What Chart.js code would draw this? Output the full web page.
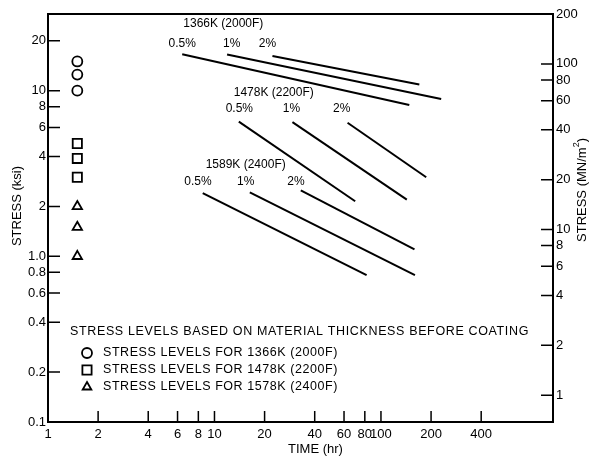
<!DOCTYPE html>
<html>
<head>
<meta charset="utf-8">
<script src="https://cdn.jsdelivr.net/npm/chart.js@4.4.1/dist/chart.umd.min.js"></script>
<style>
  html, body { margin: 0; padding: 0; background: #fff; }
</style>
</head>
<body>
<canvas id="chart" width="595" height="456"></canvas>
<script>
const FONT = '"Liberation Sans", Arial, sans-serif';

// axes
const timeTicks = [1, 2, 4, 6, 8, 10, 20, 40, 60, 80, 100, 200, 400];
const ksiTicks = [0.1, 0.2, 0.4, 0.6, 0.8, 1, 2, 4, 6, 8, 10, 20];
const ksiLabels = ["0.1", "0.2", "0.4", "0.6", "0.8", "1.0", "2", "4", "6", "8", "10", "20"];
const mnTicks = [1, 2, 4, 6, 8, 10, 20, 40, 60, 80, 100, 200];
const KSI_TO_MN = 6.895;
const maxMN = 200;

// stress level markers (time, ksi)
const markerTime = 1.5;
const circleStress = [15, 12.5, 10];
const squareStress = [4.8, 3.9, 3.0];
const triangleStress = [2.0, 1.5, 1.0];

// creep strain lines, each [t start, ksi start, t end, ksi end] for 0.5%, 1%, 2%
const strains = ["0.5%", "1%", "2%"];
const lines1366 = [[6.4, 16.6, 148, 8.2], [11.9, 16.5, 230, 8.9], [22.3, 16.2, 170, 10.9]];
const lines1478 = [[14.0, 6.5, 70, 2.15], [29.4, 6.45, 143, 2.2], [63, 6.4, 187, 3.0]];
const lines1589 = [[8.5, 2.41, 82, 0.77], [16.3, 2.43, 160, 0.77], [33, 2.5, 159, 1.1]];

// annotation anchors (time, ksi)
const tempNames = ["1366K (2000F)", "1478K (2200F)", "1589K (2400F)"];
const tempLabelAt = [[11.3, 25.5], [22.7, 9.7], [15.4, 3.56]];
const strainLabelTime = [[6.4, 12.7, 20.8], [14.1, 29.0, 58.1], [7.95, 15.4, 30.9]];
const strainLabelStress = [19.3, 7.78, 2.82];

const noteTitle = "STRESS LEVELS BASED ON MATERIAL THICKNESS BEFORE COATING";
const noteRows = [
  ["circle", "STRESS LEVELS FOR 1366K (2000F)"],
  ["rect", "STRESS LEVELS FOR 1478K (2200F)"],
  ["triangle", "STRESS LEVELS FOR 1578K (2400F)"],
];

function markers(stresses, style, r) {
  return {
    data: stresses.map((s) => ({ x: markerTime, y: s })),
    pointStyle: style,
    pointRadius: r,
    borderColor: "#000",
    backgroundColor: "rgba(0,0,0,0)",
    pointBorderWidth: 1.8,
    showLine: false,
  };
}

function strainLine(seg) {
  return {
    data: [{ x: seg[0], y: seg[1] }, { x: seg[2], y: seg[3] }],
    showLine: true,
    borderColor: "#000",
    borderWidth: 2,
    pointRadius: 0,
  };
}

const datasets = [
  markers(circleStress, "circle", 5),
  markers(squareStress, "rect", 6.5),
  markers(triangleStress, "triangle", 5.4),
  ...lines1366.map(strainLine),
  ...lines1478.map(strainLine),
  ...lines1589.map(strainLine),
];

function fixedTicks(values) {
  return (scale) => {
    scale.ticks = values.map((v) => ({ value: v }));
  };
}

const decor = {
  id: "decor",
  afterDatasetsDraw(chart) {
    const ctx = chart.ctx;
    const a = chart.chartArea;
    const x = chart.scales.x, y = chart.scales.y, y2 = chart.scales.y2;
    ctx.save();
    ctx.strokeStyle = "#000";
    ctx.fillStyle = "#000";

    // frame
    ctx.lineWidth = 2;
    ctx.strokeRect(a.left, a.top, a.right - a.left, a.bottom - a.top);

    // inward ticks
    ctx.lineWidth = 1.5;
    ctx.beginPath();
    timeTicks.slice(1).forEach((v) => {
      const px = x.getPixelForValue(v);
      ctx.moveTo(px, a.bottom);
      ctx.lineTo(px, a.bottom - 11);
    });
    ksiTicks.slice(1).forEach((v) => {
      const py = y.getPixelForValue(v);
      ctx.moveTo(a.left, py);
      ctx.lineTo(a.left + 12, py);
    });
    mnTicks.slice(0, -1).forEach((v) => {
      const py = y2.getPixelForValue(v);
      ctx.moveTo(a.right, py);
      ctx.lineTo(a.right - 12, py);
    });
    ctx.stroke();

    // axis titles
    ctx.font = "13px " + FONT;
    ctx.textAlign = "center";
    ctx.textBaseline = "middle";
    ctx.fillText("TIME (hr)", (a.left + a.right) / 2 + 15, 449);

    ctx.save();
    ctx.translate(17, 206);
    ctx.rotate(-Math.PI / 2);
    ctx.fillText("STRESS (ksi)", 0, 0);
    ctx.restore();

    ctx.save();
    ctx.translate(582, 190);
    ctx.rotate(-Math.PI / 2);
    const main = "STRESS (MN/m";
    ctx.font = "13px " + FONT;
    const w1 = ctx.measureText(main).width;
    ctx.font = "9px " + FONT;
    const w2 = ctx.measureText("2").width;
    ctx.font = "13px " + FONT;
    const w3 = ctx.measureText(")").width;
    const sx = -(w1 + w2 + w3) / 2;
    ctx.textAlign = "left";
    ctx.fillText(main, sx, 0);
    ctx.font = "9px " + FONT;
    ctx.fillText("2", sx + w1, -5);
    ctx.font = "13px " + FONT;
    ctx.fillText(")", sx + w1 + w2, 0);
    ctx.restore();

    // curve labels
    ctx.font = "12px " + FONT;
    ctx.textAlign = "center";
    tempNames.forEach((name, i) => {
      ctx.fillText(name, x.getPixelForValue(tempLabelAt[i][0]), y.getPixelForValue(tempLabelAt[i][1]));
      strains.forEach((s, j) => {
        ctx.fillText(s, x.getPixelForValue(strainLabelTime[i][j]), y.getPixelForValue(strainLabelStress[i]));
      });
    });

    // note block
    ctx.textAlign = "left";
    ctx.font = "12.5px " + FONT;
    const natural = ctx.measureText(noteTitle).width;
    ctx.letterSpacing = ((459 - natural) / noteTitle.length) + "px";
    ctx.fillText(noteTitle, 70, 332);
    ctx.letterSpacing = "0px";
    const rn = ctx.measureText(noteRows[0][1]).width;
    ctx.letterSpacing = ((235 - rn) / noteRows[0][1].length) + "px";
    noteRows.forEach((row, i) => {
      const ry = 353 + i * 17;
      ctx.fillStyle = "#000";
      ctx.fillText(row[1], 103, ry);
      ctx.fillStyle = "rgba(0,0,0,0)";
      ctx.lineWidth = 1.8;
      Chart.helpers.drawPoint(ctx, {
        pointStyle: row[0],
        radius: row[0] === "rect" ? 6.5 : 5,
        borderWidth: 1.8,
      }, 87, ry);
    });
    ctx.restore();
  },
};

const tickFont = { family: FONT, size: 13 };

new Chart(document.getElementById("chart"), {
  type: "scatter",
  data: { datasets },
  options: {
    responsive: false,
    animation: false,
    layout: { padding: { top: 14, left: 0, right: 0, bottom: 0 } },
    plugins: { legend: { display: false }, tooltip: { enabled: false } },
    scales: {
      x: {
        type: "logarithmic",
        min: 1,
        max: 1080,
        afterBuildTicks: fixedTicks(timeTicks),
        afterFit: (s) => { s.height = 34; },
        grid: { display: false, drawTicks: false },
        border: { display: false },
        ticks: {
          autoSkip: false,
          maxRotation: 0,
          padding: 5,
          color: "#000",
          font: tickFont,
          callback: (v) => String(v),
        },
      },
      y: {
        type: "logarithmic",
        position: "left",
        min: 0.1,
        max: maxMN / KSI_TO_MN,
        afterBuildTicks: fixedTicks(ksiTicks),
        afterFit: (s) => { s.width = 48; },
        grid: { display: false, drawTicks: false },
        border: { display: false },
        ticks: {
          autoSkip: false,
          padding: 2,
          color: "#000",
          font: tickFont,
          callback: (v) => ksiLabels[ksiTicks.indexOf(v)],
        },
      },
      y2: {
        type: "logarithmic",
        position: "right",
        min: 0.1 * KSI_TO_MN,
        max: maxMN,
        afterBuildTicks: fixedTicks(mnTicks),
        afterFit: (s) => { s.width = 42; },
        grid: { display: false, drawTicks: false },
        border: { display: false },
        ticks: {
          autoSkip: false,
          padding: 3,
          color: "#000",
          font: tickFont,
          callback: (v) => String(v),
        },
      },
    },
  },
  plugins: [decor],
});
</script>
</body>
</html>
